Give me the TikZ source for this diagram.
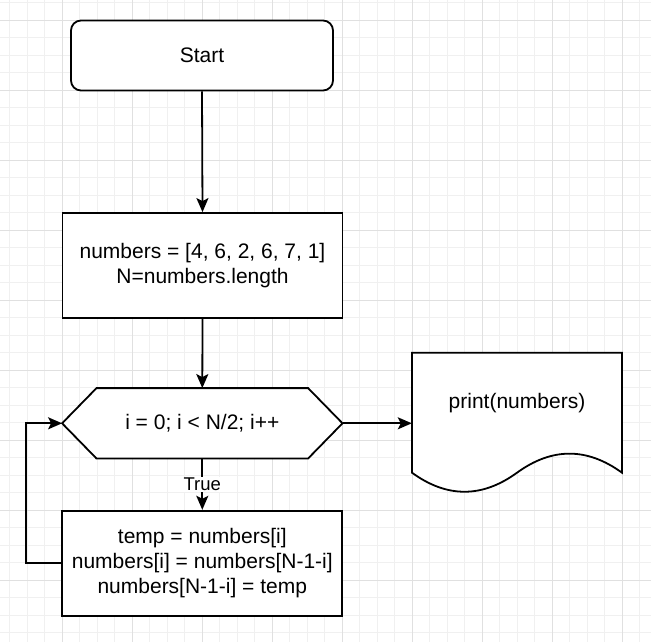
\documentclass[tikz,border=0pt]{standalone}
\usepackage{fontspec}
\setmainfont{Liberation Sans}
\usetikzlibrary{arrows.meta}
\tikzset{
  minorgrid/.style={draw=black!6, line width=0.8pt},
  majorgrid/.style={draw=black!12, line width=0.8pt},
  line/.style={draw=black, line width=1.8pt},
  arr/.style={line, -{Stealth[length=14pt,width=12pt,inset=3pt]}},
  txt/.style={font=\fontsize{21}{25}\selectfont, align=center, text=black},
  boxnode/.style={txt, draw=black, line width=1.8pt, fill=white, minimum width=280pt, minimum height=105pt, inner sep=0pt},
  startnode/.style={txt, draw=black, line width=1.8pt, fill=white, rounded corners=10pt, minimum width=262pt, minimum height=70pt, inner sep=0pt},
  hexnode/.style={txt, minimum width=280pt, minimum height=70pt, inner sep=0pt},
  docnode/.style={minimum width=210pt, minimum height=141.2pt, inner sep=0pt},
  lbl/.style={font=\fontsize{18.5}{21}\selectfont, fill=white, inner sep=1pt, text=black}
}
\begin{document}
\begin{tikzpicture}[x=1pt,y=-1pt]
  \fill[white] (0,0) rectangle (651,642);
  \useasboundingbox (0,0) rectangle (651,642);
  % grid
  \foreach \i in {0,...,36} {
    \draw[minorgrid] ({9.5+17.5*\i},0) -- ({9.5+17.5*\i},642);
    \draw[minorgrid] (0,{2.5+17.5*\i}) -- (651,{2.5+17.5*\i});
  }
  \foreach \k in {0,...,8} {
    \draw[majorgrid] ({62+70*\k},0) -- ({62+70*\k},642);
    \draw[majorgrid] (0,{20+70*\k}) -- (651,{20+70*\k});
  }
  % nodes
  \node[startnode] (start) at (202,55.5) {Start};
  \node[boxnode] (init) at (202.5,265.5) {numbers = [4, 6, 2, 6, 7, 1]\\N=numbers.length};
  \node[hexnode] (loop) at (202.3,423.3) {};
  \fill[white] ([xshift=34.4pt]loop.north west) -- ([xshift=-34.4pt]loop.north east) -- (loop.east)
    -- ([xshift=-34.4pt]loop.south east) -- ([xshift=34.4pt]loop.south west) -- (loop.west) -- cycle;
  \draw[line, line join=miter] ([xshift=34.4pt]loop.north west) -- ([xshift=-34.4pt]loop.north east) -- (loop.east)
    -- ([xshift=-34.4pt]loop.south east) -- ([xshift=34.4pt]loop.south west) -- (loop.west) -- cycle;
  \node[txt] (looptext) at (loop.center) {i = 0; i < N/2; i++};
  \node[boxnode] (body) at (202.3,563.2) {temp = numbers[i]\\numbers[i] = numbers[N-1-i]\\numbers[N-1-i] = temp};
  % document
  \node[docnode] (doc) at (517,423.3) {};
  \filldraw[line, fill=white, line join=miter] (412,352.7) -- (622,352.7) -- (622,472.7)
    .. controls (587,447.3) and (552,447.3) .. (517,472.7)
    .. controls (482,498.1) and (447,498.1) .. (412,472.7) -- cycle;
  \node[txt] (doctext) at (517,403.3) {print(numbers)};
  % connectors
  \draw[arr] (start.south) -- (init.north);
  \draw[arr] (init.south) -- (loop.north);
  \draw[arr] (loop.south) -- node[lbl] {True} (body.north);
  \draw[arr] (loop.east) -- (doc.west);
  \draw[arr] (body.west) -- ++(-35.6,0) |- (loop.west);
\end{tikzpicture}
\end{document}
